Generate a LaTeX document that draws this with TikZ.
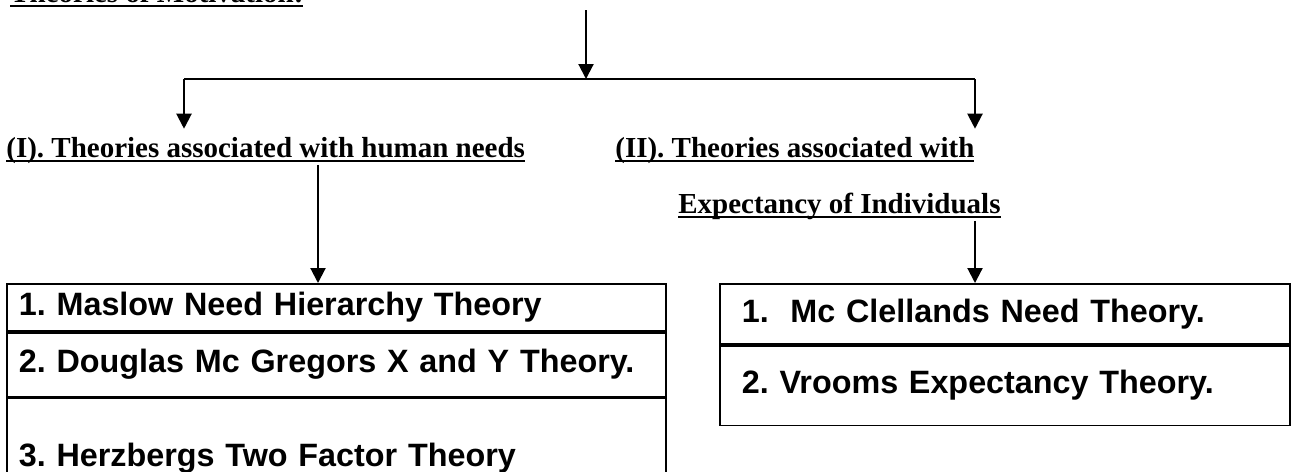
\documentclass[tikz,border=0pt]{standalone}
\usepackage{fontspec}
\setmainfont{Liberation Serif}
\setsansfont{Liberation Sans}
\usetikzlibrary{arrows.meta,positioning}
\frenchspacing

\newsavebox{\hdbox}
\newcommand{\hdline}[1]{\sbox{\hdbox}{#1}\rlap{\rule[-0.18em]{\wd\hdbox}{0.08em}}\usebox{\hdbox}}

\begin{document}
\begin{tikzpicture}[
  x=0.02cm, y=-0.02cm,
  head/.style={inner sep=0pt,text height=15.9pt,text depth=4.3pt,anchor=base west,font=\fontsize{16.5}{20}\selectfont\bfseries},
  item/.style={draw,line width=1pt,inner ysep=0pt,align=left,anchor=north west,font=\fontsize{18.4}{22}\selectfont\sffamily\bfseries},
  lbox/.style={item,inner xsep=0.24cm,text width=12.7cm},
  rbox/.style={item,inner xsep=0.44cm,text width=10.52cm},
  line/.style={line width=1.2pt},
  arrow/.style={line,-{Triangle[length=0.3cm,width=0.3cm]}}
]
\useasboundingbox (0,0) rectangle (1293,471);
% headings
\node[head] (title) at (10,2) {\hdline{Theories of Motivation:}};
\node[head] (needs) at (6,157) {\hdline{(I). Theories associated with human needs}};
\node[head] (expect) at (615,157) {\hdline{(II). Theories associated with}};
\node[head] (expect2) at (678,213) {\hdline{Expectancy of Individuals}};
% theory lists
\node[lbox,minimum height=0.94cm] (mas) at (6,283) {1. Maslow Need Hierarchy Theory};
\node[lbox,minimum height=1.28cm,below=0pt of mas] (dou) {2. Douglas Mc Gregors X and Y Theory.};
\node[lbox,minimum height=2.4cm,below=0pt of dou] (her) {3. Herzbergs Two Factor Theory};
\node[rbox,minimum height=1.2cm] (mcc) at (719,283) {1.~~Mc Clellands Need Theory.};
\node[rbox,minimum height=1.6cm,below=0pt of mcc] (vro) {2. Vrooms Expectancy Theory.};
% connectors
\coordinate (src) at (586,10);
\coordinate (split) at (586,79);
\coordinate (lft) at (184,79);
\coordinate (rgt) at (975,79);
\coordinate (down) at (318,0);
\draw[arrow] (src) -- (split);
\draw[line] (lft) -- (rgt);
\draw[arrow] (lft) -- (lft |- needs.north);
\draw[arrow] (rgt) -- (rgt |- expect.north);
\draw[arrow] (down |- needs.south) -- (down |- mas.north);
\draw[arrow] (rgt |- expect2.south) -- (rgt |- mcc.north);
\end{tikzpicture}
\end{document}
